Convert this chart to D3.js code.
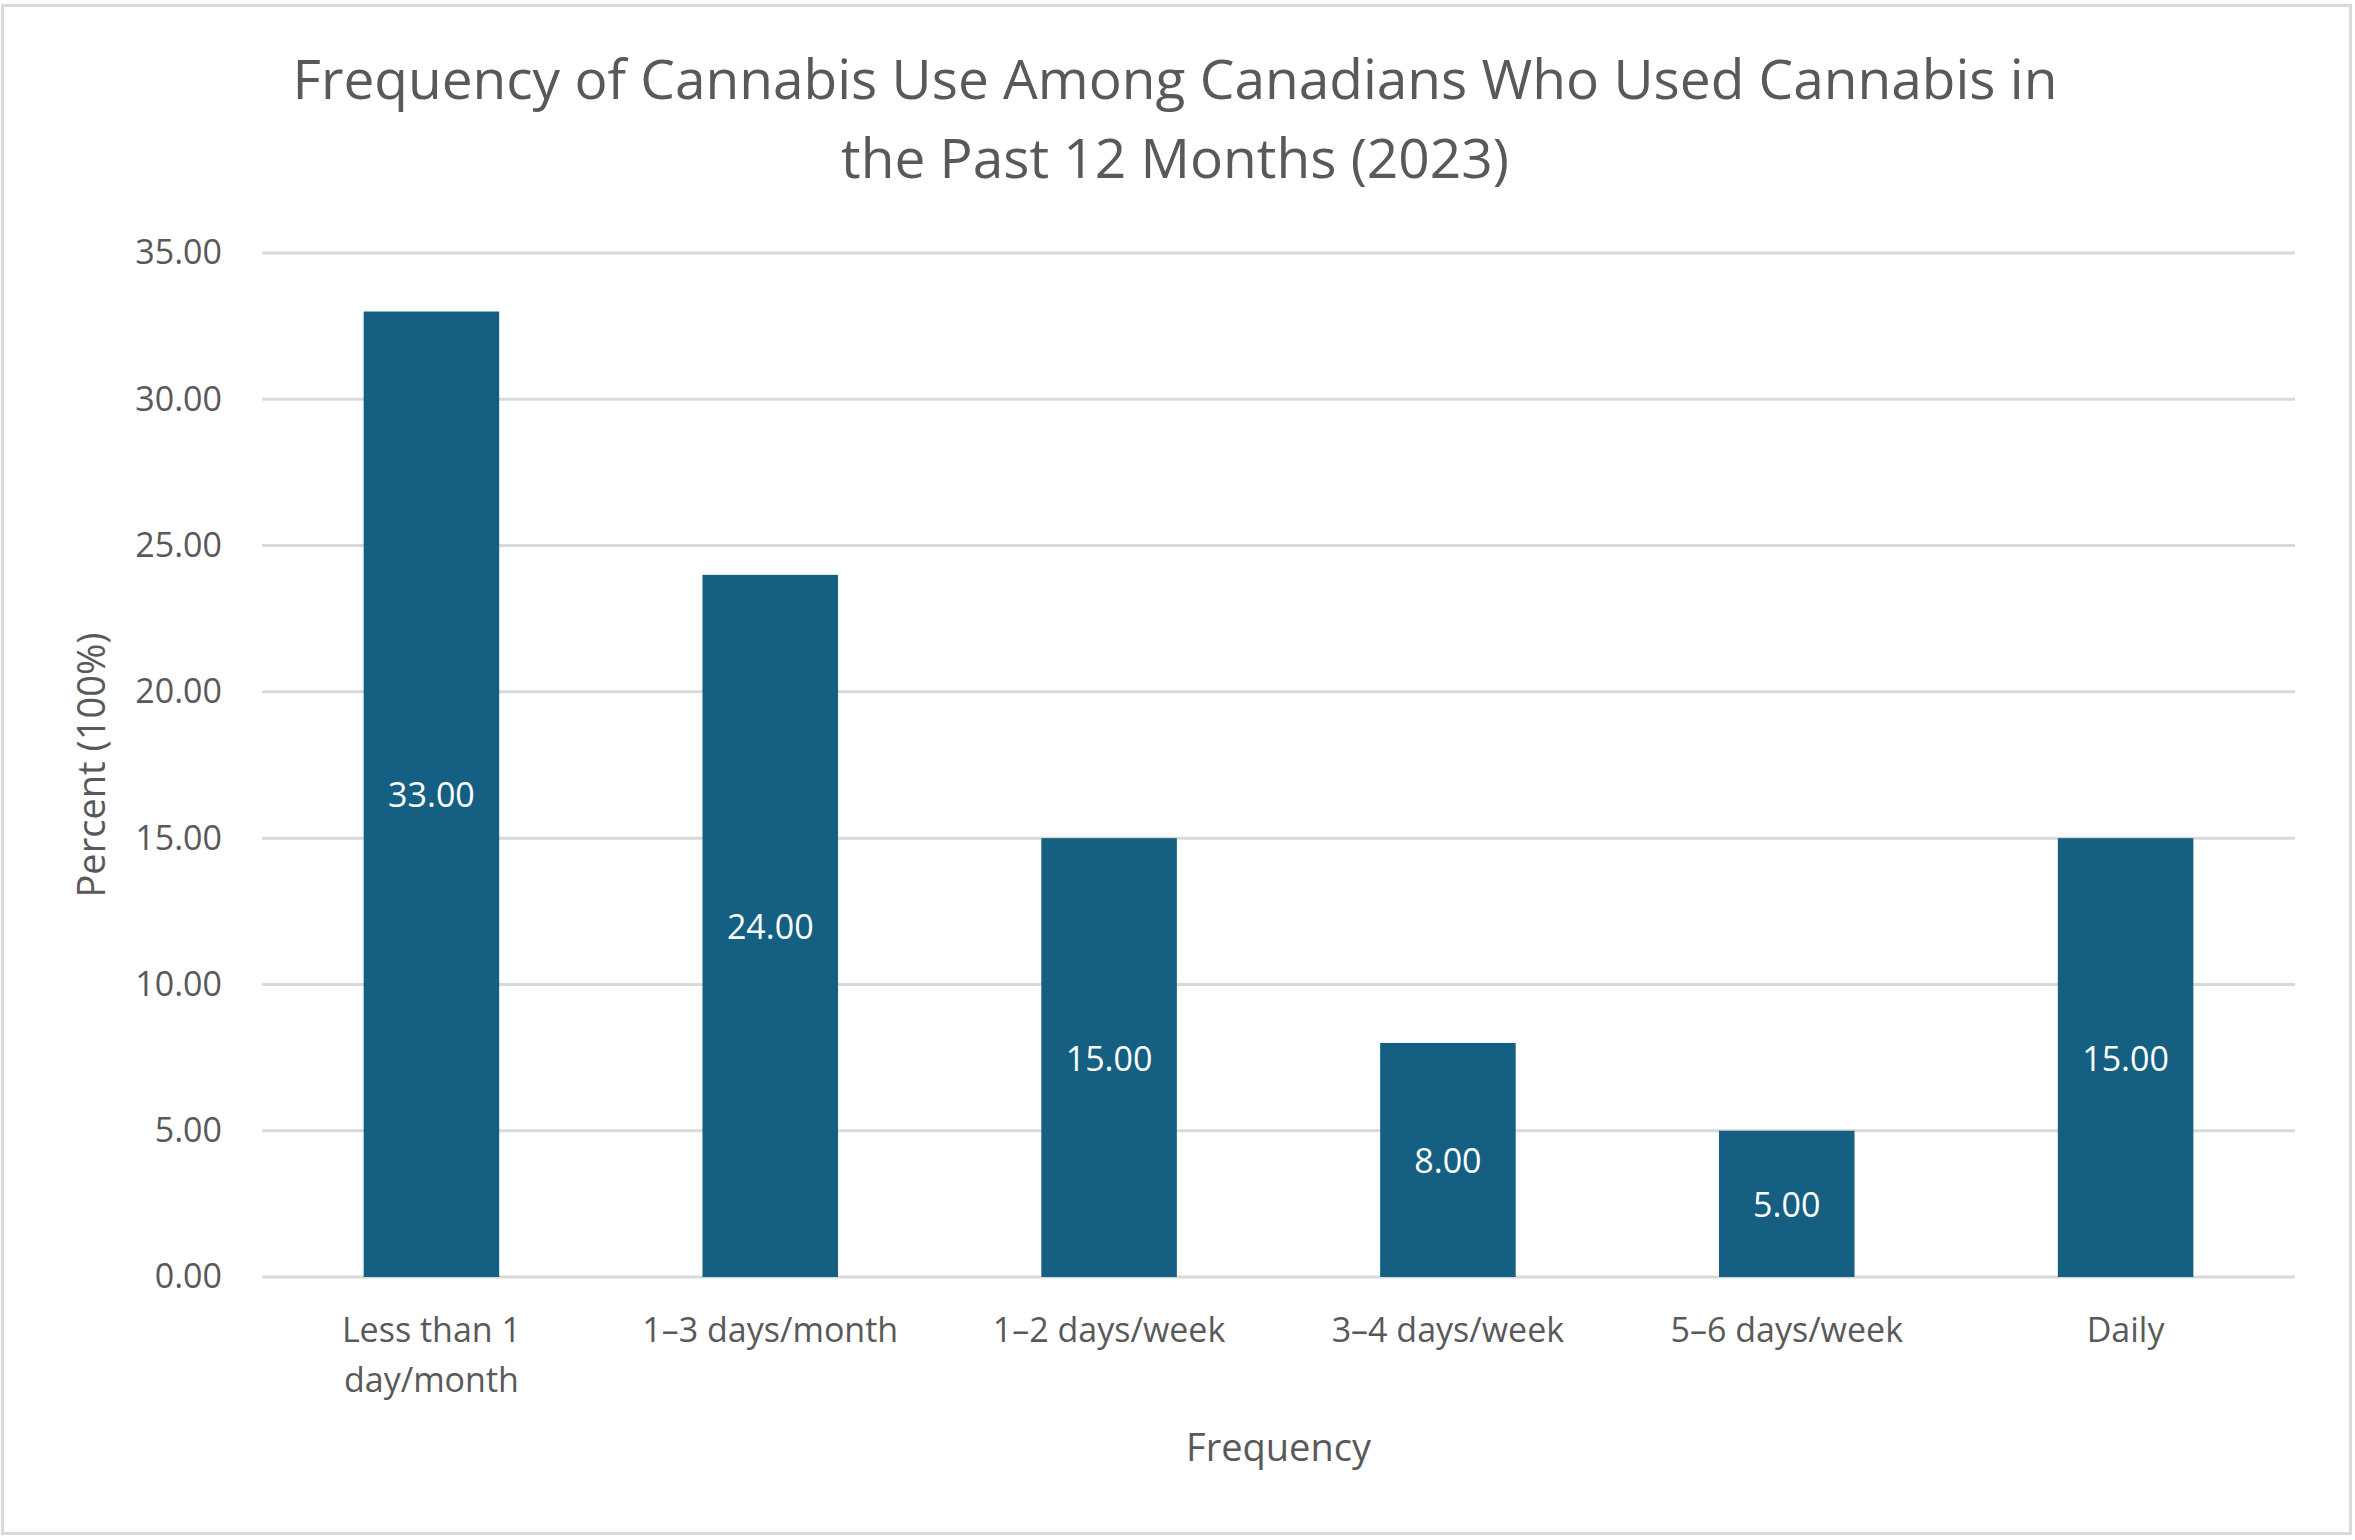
<!DOCTYPE html>
<meta charset="utf-8">
<head>
<title>Frequency of Cannabis Use Among Canadians</title>
<script type="text/javascript" src="https://cdn.jsdelivr.net/npm/d3@7"></script>
<style>
    body { margin: 0; background: #fff; }
    text { font-family: "Open Sans", "Liberation Sans", sans-serif; fill: #595959; }
</style>
</head>
<body>
<div id="chart"></div>
<script>
    // data
    var categories = ["Less than 1 day/month", "1\u20133 days/month", "1\u20132 days/week",
                      "3\u20134 days/week", "5\u20136 days/week", "Daily"];
    var percents = [33, 24, 15, 8, 5, 15];
    var yTicks = [0, 5, 10, 15, 20, 25, 30, 35];
    // labels that wrap onto two lines
    var labelLines = {"Less than 1 day/month": ["Less than 1", "day/month"]};

    var width = 2355, height = 1540;
    var margin = {top: 253, right: 60, bottom: 263, left: 262};

    var svg = d3.select("#chart")
                .append("svg")
                .attr("width", width)
                .attr("height", height);

    svg.append("rect")
       .attr("x", 2.5).attr("y", 5.5)
       .attr("width", width - 7).attr("height", height - 12)
       .attr("fill", "#fff")
       .attr("stroke", "#D9D9D9")
       .attr("stroke-width", 3);

    var x = d3.scaleBand()
              .domain(categories)
              .range([margin.left, width - margin.right])
              .paddingInner(0.6)
              .paddingOuter(0.3);

    var y = d3.scaleLinear()
              .domain([0, 35])
              .range([height - margin.bottom, margin.top]);

    // gridlines
    svg.append("g")
       .selectAll("line")
       .data(yTicks)
       .enter()
       .append("line")
       .attr("x1", margin.left)
       .attr("x2", width - margin.right)
       .attr("y1", d => y(d))
       .attr("y2", d => y(d))
       .attr("stroke", "#D9D9D9")
       .attr("stroke-width", 3);

    // y axis labels
    var yAxis = d3.axisLeft(y).tickValues(yTicks).tickFormat(d3.format(".2f")).tickSize(0).tickPadding(40);
    var gy = svg.append("g")
       .attr("transform", "translate(" + margin.left + ",0)")
       .call(yAxis);
    gy.select(".domain").remove();
    gy.selectAll("text")
      .style("font-size", "34px")
      .style("fill", "#595959")
      .style("font-family", "'Open Sans', sans-serif");

    // bars
    svg.append("g")
       .selectAll("rect")
       .data(percents)
       .enter()
       .append("rect")
       .attr("x", (d, i) => x(categories[i]))
       .attr("y", d => y(d))
       .attr("width", x.bandwidth())
       .attr("height", d => y(0) - y(d))
       .attr("fill", "#156082");

    // value labels in the middle of each bar
    svg.append("g")
       .selectAll("text")
       .data(percents)
       .enter()
       .append("text")
       .attr("x", (d, i) => x(categories[i]) + x.bandwidth() / 2)
       .attr("y", d => (y(d) + y(0)) / 2)
       .attr("text-anchor", "middle")
       .attr("dominant-baseline", "central")
       .style("font-size", "34px")
       .style("fill", "#fff")
       .text(d => d3.format(".2f")(d));

    // x axis category labels
    var xl = svg.append("g")
       .selectAll("text")
       .data(categories)
       .enter()
       .append("text")
       .attr("x", d => x(d) + x.bandwidth() / 2)
       .attr("y", y(0) + 52)
       .attr("text-anchor", "middle")
       .attr("dominant-baseline", "central")
       .style("font-size", "34px");
    xl.each(function(d) {
        var lines = labelLines[d] || [d];
        var t = d3.select(this);
        lines.forEach(function(l, i) {
            t.append("tspan")
             .attr("x", x(d) + x.bandwidth() / 2)
             .attr("dy", i == 0 ? 0 : 50)
             .text(l);
        });
    });

    // axis titles
    svg.append("text")
       .attr("x", (margin.left + width - margin.right) / 2)
       .attr("y", 1446)
       .attr("text-anchor", "middle")
       .attr("dominant-baseline", "central")
       .style("font-size", "38px")
       .text("Frequency");

    svg.append("text")
       .attr("transform", "translate(90," + ((y(0) + y(35)) / 2) + ") rotate(-90)")
       .attr("text-anchor", "middle")
       .attr("dominant-baseline", "central")
       .style("font-size", "38px")
       .text("Percent (100%)");

    // title
    var title = svg.append("text")
       .attr("x", 1175)
       .attr("text-anchor", "middle")
       .attr("dominant-baseline", "central")
       .style("font-size", "55px");
    title.append("tspan").attr("x", 1175).attr("y", 77)
         .text("Frequency of Cannabis Use Among Canadians Who Used Cannabis in");
    title.append("tspan").attr("x", 1175).attr("y", 156)
         .text("the Past 12 Months (2023)");
</script>
</body>
</html>
